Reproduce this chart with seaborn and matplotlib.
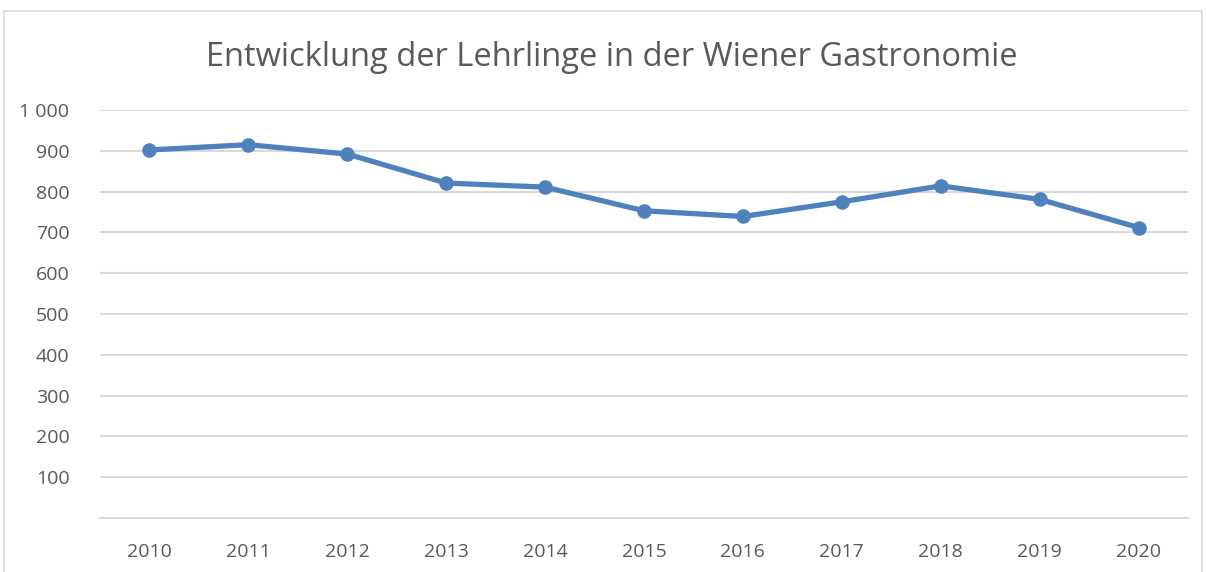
import matplotlib
matplotlib.use("Agg")
import matplotlib.pyplot as plt
import matplotlib.patches as patches
import matplotlib.ticker as mticker
import pandas as pd
import seaborn as sns

# Values
years = ["2010", "2011", "2012", "2013", "2014", "2015", "2016", "2017", "2018", "2019", "2020"]
apprentices = [902, 915, 892, 821, 811, 753, 739, 775, 814, 781, 712]
y_ticks = [100, 200, 300, 400, 500, 600, 700, 800, 900, 1000]
title = "Entwicklung der Lehrlinge in der Wiener Gastronomie"

df = pd.DataFrame({"Jahr": years, "Lehrlinge": apprentices})

sns.set_style("white")
plt.rcParams["font.family"] = ["Open Sans", "DejaVu Sans"]

text_color = "#595959"
grid_color = "#D9D9D9"
line_color = "#4F81BD"

fig = plt.figure(figsize=(12.06, 5.72), dpi=100)
ax = fig.add_axes([100 / 1206, 1 - 518 / 572, 1088 / 1206, 408 / 572])

sns.lineplot(data=df, x="Jahr", y="Lehrlinge", ax=ax, color=line_color,
             linewidth=3.8, marker="o", markersize=10.5, markeredgewidth=0,
             sort=False)

ax.set_xlim(-0.5, len(years) - 0.5)
ax.set_ylim(0, 1000)
ax.set_yticks(y_ticks)
ax.yaxis.set_major_formatter(mticker.FuncFormatter(
    lambda v, _: f"{int(v):,}".replace(",", " ")))
ax.grid(axis="y", color=grid_color, linewidth=1.5)
ax.grid(axis="x", visible=False)
ax.set_axisbelow(True)
for side in ["top", "right", "left"]:
    ax.spines[side].set_visible(False)
ax.spines["bottom"].set_color(grid_color)
ax.spines["bottom"].set_linewidth(1.5)
ax.tick_params(axis="both", length=0, labelsize=14, labelcolor=text_color)
ax.tick_params(axis="y", pad=22)
ax.tick_params(axis="x", pad=18)
ax.set_xlabel("")
ax.set_ylabel("")

fig.text(0.507, 1 - 57 / 572, title, ha="center", va="center",
         fontsize=23.5, color=text_color)

# light frame around the chart area
fig.add_artist(patches.Rectangle((4 / 1206, -0.01), 1198 / 1206, 1 - 11 / 572 + 0.01,
                                 transform=fig.transFigure, fill=False,
                                 edgecolor=grid_color, linewidth=1.2))

fig.savefig("out.png", dpi=100)
